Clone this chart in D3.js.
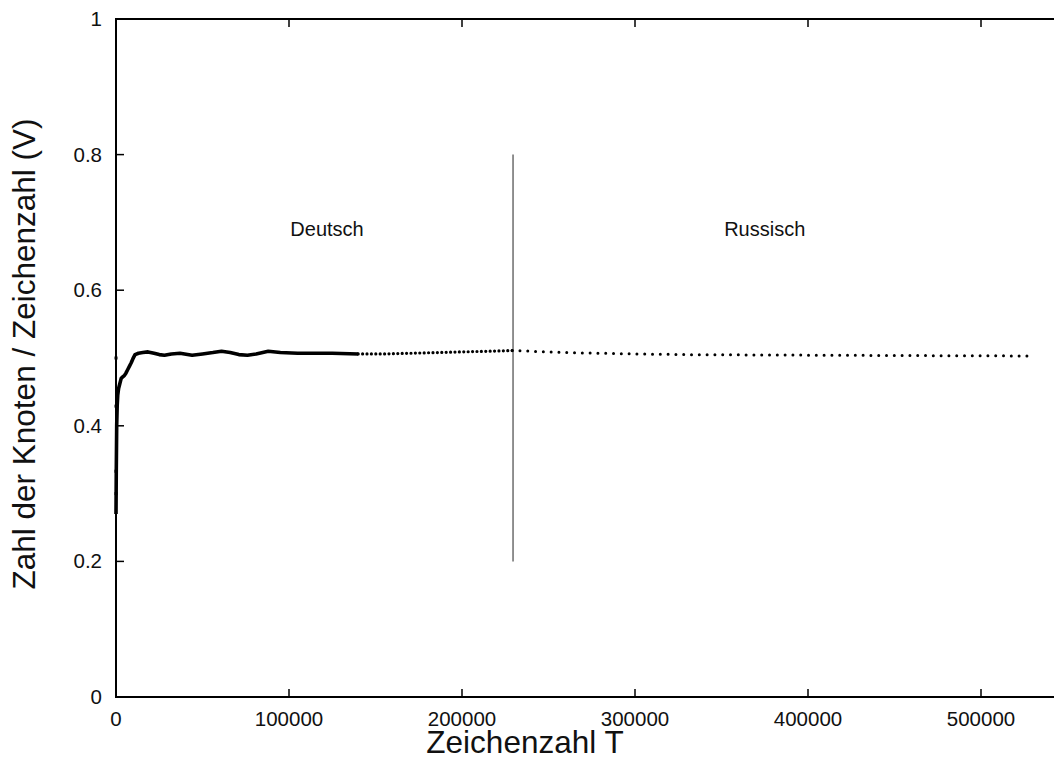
<!DOCTYPE html>
<html>
<head>
<meta charset="utf-8">
<script src="https://cdn.jsdelivr.net/npm/d3@7"></script>
<style>
  body { margin: 0; background: #fff; }
  svg { display: block; font-family: "Liberation Sans", Arial, sans-serif; }
</style>
</head>
<body>
<script>
// data: ratio V (nodes / characters) vs character count T
var earlyT = [2, 3, 7, 10];
var earlyV = [0.5, 0.333, 0.429, 0.3];

var deT = [0, 150, 400, 700, 1000, 1500, 2200, 3000, 3800, 4800, 5800, 6800, 7800, 8800, 9800,
           11000, 13000, 15500, 18500, 22000, 25000, 28000, 32000, 37000, 44000, 50000, 56000,
           61000, 66000, 71000, 76000, 81000, 88000, 95000, 105000, 115000, 125000, 140000,
           155000, 170000, 185000, 200000, 215000, 229000];
var deV = [0.27, 0.33, 0.40, 0.43, 0.445, 0.455, 0.462, 0.470, 0.472, 0.474, 0.478, 0.483, 0.488, 0.493, 0.499,
           0.505, 0.507, 0.508, 0.509, 0.507, 0.505, 0.504, 0.506, 0.507, 0.504, 0.506, 0.508,
           0.510, 0.508, 0.505, 0.504, 0.506, 0.510, 0.508, 0.507, 0.507, 0.507, 0.506,
           0.506, 0.507, 0.508, 0.509, 0.510, 0.511];

var ruT = [229000, 240000, 260000, 280000, 300000, 330000, 370000, 420000, 470000, 531000];
var ruV = [0.511, 0.510, 0.508, 0.507, 0.506, 0.505, 0.5045, 0.504, 0.5035, 0.503];

var boundaryT = 229500;
var boundaryV = [0.2, 0.8];

var xTicks = [0, 100000, 200000, 300000, 400000, 500000];
var yTicks = [0, 0.2, 0.4, 0.6, 0.8, 1];
var langLabels = ["Deutsch", "Russisch"];
var langLabelT = [122000, 375000];
var langLabelV = 0.69;

var width = 1054, height = 759;
var plotLeft = 116, plotTop = 19, plotBottom = 697;

var x = d3.scaleLinear().domain([0, 560000]).range([plotLeft, plotLeft + 5.6 * 173]);
var y = d3.scaleLinear().domain([0, 1]).range([plotBottom, plotTop]);
var plotRight = x.range()[1];

var svg = d3.select("body").append("svg")
    .attr("width", width)
    .attr("height", height);

// inward ticks on all four sides (gnuplot style)
var tickLen = 8;
var ticks = svg.append("g").attr("stroke", "#000").attr("stroke-width", 1.5);
xTicks.forEach(function(t) {
  ticks.append("line").attr("x1", x(t)).attr("x2", x(t)).attr("y1", plotBottom).attr("y2", plotBottom - tickLen);
  ticks.append("line").attr("x1", x(t)).attr("x2", x(t)).attr("y1", plotTop).attr("y2", plotTop + tickLen);
});
yTicks.forEach(function(t) {
  ticks.append("line").attr("x1", plotLeft).attr("x2", plotLeft + tickLen).attr("y1", y(t)).attr("y2", y(t));
  ticks.append("line").attr("x1", plotRight).attr("x2", plotRight - tickLen).attr("y1", y(t)).attr("y2", y(t));
});

svg.append("rect")
    .attr("x", plotLeft).attr("y", plotTop)
    .attr("width", plotRight - plotLeft).attr("height", plotBottom - plotTop)
    .attr("fill", "none").attr("stroke", "#000").attr("stroke-width", 2);

// tick labels
svg.append("g").selectAll("text").data(xTicks).enter().append("text")
    .attr("x", function(d) { return x(d); })
    .attr("y", 726)
    .attr("text-anchor", "middle")
    .attr("font-size", 20.5)
    .attr("fill", "#111")
    .text(function(d) { return d; });

svg.append("g").selectAll("text").data(yTicks).enter().append("text")
    .attr("x", 102)
    .attr("y", function(d) { return y(d) + 7; })
    .attr("text-anchor", "end")
    .attr("font-size", 20.5)
    .attr("fill", "#111")
    .text(function(d) { return d; });

// axis titles
svg.append("text")
    .attr("x", 525).attr("y", 753)
    .attr("text-anchor", "middle")
    .attr("font-size", 31.5)
    .attr("fill", "#111")
    .text("Zeichenzahl T");

svg.append("text")
    .attr("transform", "translate(35,354) rotate(-90)")
    .attr("text-anchor", "middle")
    .attr("font-size", 31.5)
    .attr("fill", "#111")
    .text("Zahl der Knoten / Zeichenzahl (V)");

// boundary between the two texts
svg.append("line")
    .attr("x1", x(boundaryT)).attr("x2", x(boundaryT))
    .attr("y1", y(boundaryV[0])).attr("y2", y(boundaryV[1]))
    .attr("stroke", "#555").attr("stroke-width", 1.3);

svg.append("g").selectAll("text").data(langLabels).enter().append("text")
    .attr("x", function(d, i) { return x(langLabelT[i]); })
    .attr("y", y(langLabelV) + 7)
    .attr("text-anchor", "middle")
    .attr("font-size", 20)
    .attr("fill", "#111")
    .text(function(d) { return d; });

// series
var line = d3.line()
    .x(function(d) { return x(d[0]); })
    .y(function(d) { return y(d[1]); });

var de = deT.map(function(t, i) { return [t, deV[i]]; });
var deSolid = de.filter(function(d) { return d[0] <= 140000; });
var deDots = de.filter(function(d) { return d[0] >= 140000; });
var ru = ruT.map(function(t, i) { return [t, ruV[i]]; });

svg.append("path").datum(deSolid)
    .attr("d", line)
    .attr("fill", "none").attr("stroke", "#000").attr("stroke-width", 3.6)
    .attr("stroke-linejoin", "round");

svg.append("path").datum(deDots)
    .attr("d", line)
    .attr("fill", "none").attr("stroke", "#000").attr("stroke-width", 3.2)
    .attr("stroke-dasharray", "0,4.4").attr("stroke-linecap", "round");

svg.append("path").datum(ru)
    .attr("d", line)
    .attr("fill", "none").attr("stroke", "#000").attr("stroke-width", 3)
    .attr("stroke-dasharray", "0,7.8").attr("stroke-linecap", "round");

svg.append("g").selectAll("rect").data(earlyT).enter().append("rect")
    .attr("x", function(d) { return x(d) - 1.5; })
    .attr("y", function(d, i) { return y(earlyV[i]) - 1.5; })
    .attr("width", 3).attr("height", 3)
    .attr("fill", "#000");
</script>
</body>
</html>
